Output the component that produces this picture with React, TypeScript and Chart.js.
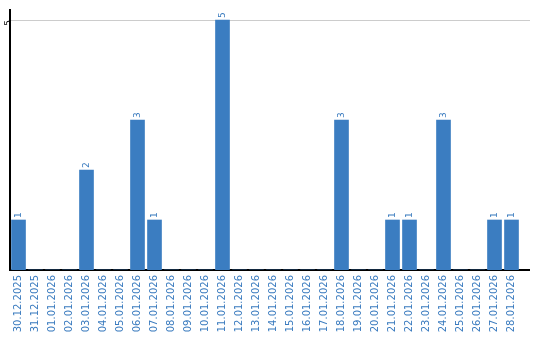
import React, { useEffect, useRef } from "react";
import { Chart, registerables } from "chart.js";

Chart.register(...registerables);

const categories: string[] = [
  "30.12.2025", "31.12.2025", "01.01.2026", "02.01.2026", "03.01.2026", "04.01.2026",
  "05.01.2026", "06.01.2026", "07.01.2026", "08.01.2026", "09.01.2026", "10.01.2026",
  "11.01.2026", "12.01.2026", "13.01.2026", "14.01.2026", "15.01.2026", "16.01.2026",
  "17.01.2026", "18.01.2026", "19.01.2026", "20.01.2026", "21.01.2026", "22.01.2026",
  "23.01.2026", "24.01.2026", "25.01.2026", "26.01.2026", "27.01.2026", "28.01.2026",
];

const counts: number[] = [
  1, 0, 0, 0, 2, 0, 0, 3, 1, 0, 0, 0, 5, 0, 0, 0, 0, 0, 0, 3, 0, 0, 1, 1, 0, 3, 0, 0, 1, 1,
];

const yTicks: number[] = [5];

const BAR = "#3b7dc1";
const TEXT = "#3a7bbf";
const FONT = "DejaVu Sans";
const GRID = "#cccccc";
const EXTRA = 10;

const valueLabels = {
  id: "valueLabels",
  afterDatasetsDraw(chart: any) {
    const ctx = chart.ctx;
    const meta = chart.getDatasetMeta(0);
    ctx.save();
    ctx.fillStyle = TEXT;
    ctx.font = `9px "${FONT}"`;
    ctx.textAlign = "left";
    ctx.textBaseline = "middle";
    meta.data.forEach((bar: any, i: number) => {
      const v = counts[i];
      if (!v) return;
      ctx.save();
      ctx.translate(bar.x, bar.y - 2);
      ctx.rotate(-Math.PI / 2);
      ctx.fillText(String(v), 0, 0);
      ctx.restore();
    });
    ctx.restore();
  },
};

const axisExtend = {
  id: "axisExtend",
  beforeDatasetsDraw(chart: any) {
    const { ctx, chartArea, scales } = chart;
    ctx.save();
    ctx.strokeStyle = GRID;
    ctx.lineWidth = 1;
    yTicks.forEach((t) => {
      const y = Math.round(scales.y.getPixelForValue(t)) + 0.5;
      ctx.beginPath();
      ctx.moveTo(chartArea.right - 1, y);
      ctx.lineTo(chartArea.right + EXTRA, y);
      ctx.stroke();
    });
    ctx.restore();
  },
  afterDraw(chart: any) {
    const { ctx, chartArea } = chart;
    ctx.save();
    ctx.strokeStyle = "#000";
    ctx.lineWidth = 2;
    ctx.beginPath();
    ctx.moveTo(chartArea.right - 1, chartArea.bottom);
    ctx.lineTo(chartArea.right + EXTRA, chartArea.bottom);
    ctx.stroke();
    ctx.restore();
  },
};

export default function App() {
  const ref = useRef<HTMLCanvasElement | null>(null);
  useEffect(() => {
    document.body.style.margin = "0";
    const chart = new Chart(ref.current as HTMLCanvasElement, {
      type: "bar",
      data: {
        labels: categories,
        datasets: [
          {
            data: counts,
            backgroundColor: BAR,
            barThickness: 14,
          },
        ],
      },
      plugins: [valueLabels, axisExtend],
      options: {
        animation: false,
        responsive: false,
        maintainAspectRatio: false,
        layout: { padding: { top: 10, right: 20, left: 0, bottom: 0 } },
        plugins: { legend: { display: false }, tooltip: { enabled: false } },
        scales: {
          x: {
            offset: true,
            grid: { display: false, drawTicks: false },
            border: { display: true, color: "#000", width: 2 },
            ticks: {
              color: TEXT,
              font: { family: FONT, size: 10 },
              minRotation: 90,
              maxRotation: 90,
              autoSkip: false,
              padding: 5,
            },
            afterFit(scale: any) {
              scale.height = 70;
            },
          },
          y: {
            min: 0,
            max: 5.2,
            afterBuildTicks(scale: any) {
              scale.ticks = yTicks.map((v) => ({ value: v }));
            },
            grid: { color: GRID, drawTicks: false, lineWidth: 1 },
            border: { display: true, color: "#000", width: 2 },
            ticks: {
              color: "#000",
              font: { family: FONT, size: 9 },
              minRotation: 90,
              maxRotation: 90,
              padding: 1,
            },
            afterFit(scale: any) {
              scale.width = 10;
            },
          },
        },
      },
    });
    return () => chart.destroy();
  }, []);
  return (
    <div style={{ width: 540, height: 340 }}>
      <canvas ref={ref} width={540} height={340} style={{ display: "block" }} />
    </div>
  );
}
